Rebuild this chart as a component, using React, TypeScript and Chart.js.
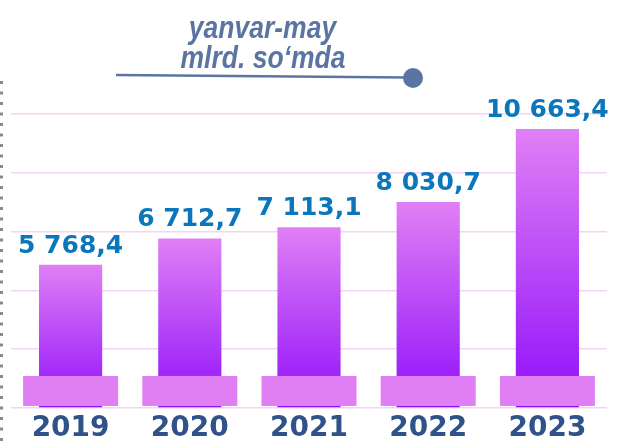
import React, { useEffect, useRef } from "react";
import { Chart, registerables } from "chart.js";

Chart.register(...registerables);

const years = ["2019", "2020", "2021", "2022", "2023"];
const values = [5768.4, 6712.7, 7113.1, 8030.7, 10663.4];
const titleLines = ["yanvar-may", "mlrd. so\u2018mda"];
const Y_MIN = 600;
const Y_MAX = 11200;
const Y_STEP = 2120;

const fmt = (v: number) => {
  const [i, d] = v.toFixed(1).split(".");
  return i.replace(/\B(?=(\d{3})+(?!\d))/g, " ") + "," + d;
};

const decor = {
  id: "decor",
  afterDatasetsDraw(chart: any) {
    const c = chart.ctx;
    const meta = chart.getDatasetMeta(0);
    c.save();
    meta.data.forEach((el: any, i: number) => {
      const { x, y, base } = el.getProps(["x", "y", "base"], true);
      // pedestal
      c.fillStyle = "#e07ff4";
      c.fillRect(x - 47.5, base - 31.3, 95, 30);
      // value label
      c.fillStyle = "#0a77bd";
      c.font = "bold 25px 'DejaVu Sans'";
      c.textAlign = "center";
      c.textBaseline = "alphabetic";
      c.fillText(fmt(values[i]), x, y - 12);
    });
    c.restore();
  },
  afterDraw(chart: any) {
    const c = chart.ctx;
    c.save();
    // dotted left axis
    c.strokeStyle = "#8a8a8a";
    c.lineWidth = 3;
    c.setLineDash([3, 7.5]);
    c.beginPath();
    c.moveTo(1.5, 81);
    c.lineTo(1.5, 446);
    c.stroke();
    c.setLineDash([]);
    // title (condensed look: stretched vertically)
    c.fillStyle = "#5b75a3";
    c.font = "italic bold 26.5px 'Liberation Sans'";
    c.textAlign = "center";
    c.textBaseline = "alphabetic";
    const sy = 1.17;
    c.save();
    c.scale(1, sy);
    c.fillText(titleLines[0], 262.5, 38.3 / sy);
    c.fillText(titleLines[1], 263, 68.3 / sy);
    c.restore();
    // line with circle
    c.strokeStyle = "#5b75a3";
    c.lineWidth = 2.6;
    c.beginPath();
    c.moveTo(116, 75);
    c.lineTo(408, 77.5);
    c.stroke();
    c.beginPath();
    c.arc(413, 78, 10, 0, Math.PI * 2);
    c.fill();
    c.restore();
  },
};

export default function App() {
  const ref = useRef<HTMLCanvasElement>(null);
  useEffect(() => {
    document.body.style.margin = "0";
    const chart = new Chart(ref.current!, {
      type: "bar",
      data: {
        labels: years,
        datasets: [
          {
            data: values,
            base: Y_MIN,
            barPercentage: 0.53,
            categoryPercentage: 1,
            borderWidth: 0,
            backgroundColor: (ctx: any) => {
              const chart = ctx.chart;
              const y = chart.scales && chart.scales.y;
              if (!y || ctx.type !== "data" || !ctx.parsed) return "#b040f8";
              const top = y.getPixelForValue(ctx.parsed.y);
              const bottom = y.getPixelForValue(y.min);
              if (!isFinite(top) || !isFinite(bottom)) return "#b040f8";
              const g = chart.ctx.createLinearGradient(0, top, 0, bottom);
              g.addColorStop(0, "#e080f5");
              g.addColorStop(1, "#900ffa");
              return g;
            },
          } as any,
        ],
      },
      options: {
        responsive: false,
        animation: false,
        layout: { padding: { top: 114, left: 11, right: 15, bottom: 0 } },
        plugins: { legend: { display: false }, tooltip: { enabled: false } },
        scales: {
          x: {
            grid: { display: false, drawTicks: true, tickLength: 4 },
            border: { display: false },
            ticks: {
              color: "#2f5389",
              padding: 3,
              font: { family: "'DejaVu Sans'", size: 28, weight: "bold", lineHeight: 1 },
            },
          },
          y: {
            min: Y_MIN,
            max: Y_MAX,
            border: { display: false },
            grid: { color: "#f5d3f7", lineWidth: 1.5, drawTicks: false },
            ticks: { display: false, stepSize: Y_STEP },
          },
        },
      },
      plugins: [decor],
    });
    return () => chart.destroy();
  }, []);
  return <canvas ref={ref} width={622} height={446} style={{ display: "block" }} />;
}
